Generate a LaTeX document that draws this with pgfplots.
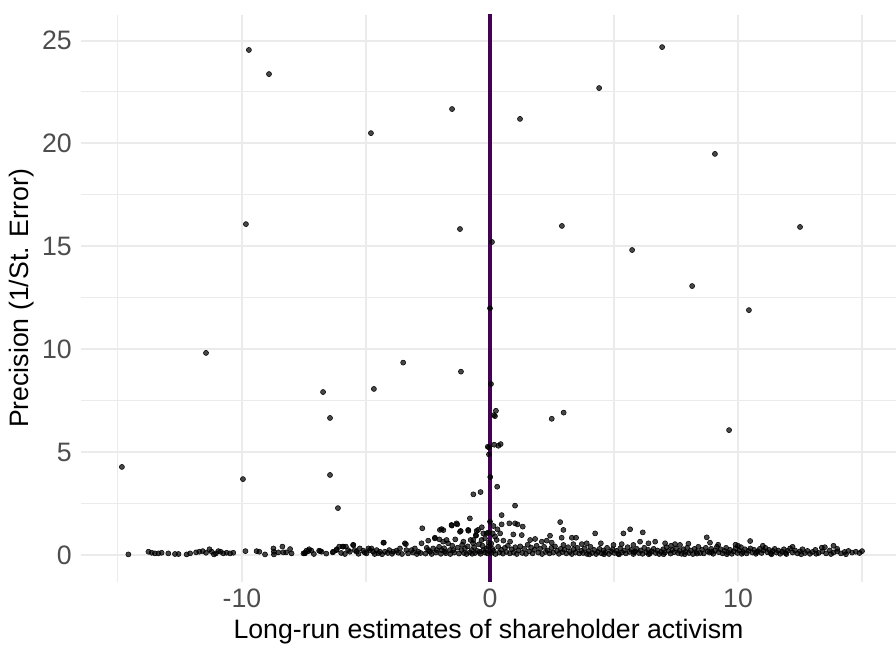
\documentclass[border=0pt]{standalone}
\usepackage{pgfplots}
\pgfplotsset{compat=1.18}
\usepackage{fontspec}
\setmainfont{Liberation Sans}
\definecolor{gridc}{HTML}{EBEBEB}
\definecolor{tickc}{HTML}{4D4D4D}
\definecolor{vir}{HTML}{440154}
\begin{document}
\begin{tikzpicture}
\begin{axis}[
  scale only axis,
  width=611.25pt, height=425.25pt,
  xmin=-16.49, xmax=16.37,
  ymin=-1.31, ymax=26.24,
  axis line style={draw=none},
  major tick length=0pt, minor tick length=0pt,
  xtick={-10,0,10}, xticklabels={-10,0,10},
  minor xtick={-15,-5,5,15},
  ytick={0,5,10,15,20,25}, yticklabels={0,5,10,15,20,25},
  minor ytick={2.5,7.5,12.5,17.5,22.5},
  grid=both,
  major grid style={color=gridc, line width=1.5pt},
  minor grid style={color=gridc, line width=0.8pt},
  tick label style={font=\fontsize{20}{24}\selectfont, text=tickc},
  xticklabel style={anchor=center, inner sep=0pt, yshift=-12pt},
  yticklabel style={anchor=east, inner sep=0pt, xshift=-6.75pt},
  every axis x label/.style={at={(axis description cs:0.5,0)}, anchor=center, yshift=-37.5pt, font=\fontsize{20}{24}\selectfont},
  every axis y label/.style={at={(axis description cs:0,0.5)}, rotate=90, anchor=center, yshift=44.25pt, font=\fontsize{20}{24}\selectfont},
  xlabel={Long-run estimates of shareholder activism},
  ylabel={Precision (1/St. Error)},
  clip=true,
]
\addplot[only marks, mark=*, mark size=1.9pt, mark options={draw=none, fill=black, fill opacity=0.72}] table {
x y
-9.72 24.54
-8.91 23.37
-1.53 21.67
-4.80 20.50
1.21 21.19
4.40 22.69
6.94 24.68
9.07 19.49
-9.84 16.08
-1.21 15.84
0.08 15.21
2.90 15.99
5.73 14.82
12.50 15.94
8.15 13.07
10.44 11.90
0.00 11.99
-11.45 9.82
-3.50 9.35
-1.17 8.91
0.04 8.31
-6.73 7.92
-4.68 8.07
-6.45 6.66
0.24 7.01
0.16 6.80
0.20 6.75
2.49 6.62
2.97 6.92
-0.09 5.26
-0.04 5.23
0.17 5.36
0.34 5.31
0.43 5.39
-0.04 4.89
0.01 3.79
0.29 3.32
-0.67 2.95
-0.38 3.06
-14.84 4.28
-9.96 3.69
-6.45 3.89
-6.13 2.28
9.64 6.07
1.01 2.40
-14.58 0.03
-13.77 0.16
-13.64 0.11
-13.51 0.08
-13.37 0.08
-13.24 0.11
-12.97 0.08
-12.70 0.05
-12.56 0.05
-12.23 0.03
-12.09 0.08
-11.85 0.13
-11.72 0.16
-11.58 0.19
-11.45 0.11
-11.31 0.28
-11.22 0.16
-11.13 0.03
-11.05 0.08
-10.95 0.19
-10.86 0.16
-10.75 0.08
-10.62 0.11
-10.48 0.08
-10.35 0.11
-9.86 0.19
-9.41 0.19
-9.30 0.16
-9.07 0.03
-8.73 0.32
-8.71 0.16
-8.71 0.03
-8.53 0.13
-8.37 0.41
-8.33 0.13
-8.22 0.13
-8.06 0.29
-8.00 0.08
-7.52 0.08
-7.46 0.11
-7.40 0.21
-7.29 0.28
-7.20 0.21
-6.89 0.21
-6.79 0.16
-6.32 0.16
-6.19 0.24
-6.08 0.41
-5.94 0.41
-5.81 0.41
-5.72 0.24
-5.65 0.16
-5.52 0.49
-5.45 0.24
-5.38 0.16
-5.25 0.32
-5.11 0.21
-4.98 0.08
-4.84 0.24
-4.78 0.32
-4.71 0.16
-4.57 0.24
-4.44 0.16
-4.28 0.60
-4.24 0.16
-4.06 0.24
-3.90 0.16
-3.77 0.21
-3.63 0.32
-3.43 0.57
-3.37 0.24
-3.16 0.24
-3.03 0.32
-2.89 0.16
-2.76 0.57
-2.73 1.30
-2.49 0.24
-2.42 0.16
-2.29 0.32
-2.22 0.81
-2.15 0.24
-2.02 1.22
-1.95 0.24
-1.89 0.65
-1.82 0.16
-1.69 0.57
-1.62 0.24
-1.55 1.46
-1.48 0.24
-1.35 1.54
-1.21 1.13
-1.15 0.24
-1.01 0.32
-0.88 1.22
-0.81 1.78
-0.74 0.24
-0.68 0.57
-0.57 0.97
-0.48 1.22
-0.41 0.16
-0.34 0.73
-0.27 0.24
-0.14 1.05
-0.07 0.41
0.00 1.62
-1.95 1.26
-1.88 1.21
-1.54 1.43
-1.32 1.49
-1.18 1.17
-0.87 1.18
-0.54 1.17
-0.33 1.35
-0.56 0.94
-0.27 1.05
-0.07 1.09
-2.49 0.70
-2.22 0.84
-2.04 0.76
-1.75 0.73
-1.40 0.76
-1.07 0.65
-0.78 0.73
-0.67 0.73
-4.30 0.60
-3.39 0.53
-4.90 0.32
-5.51 0.49
-5.91 0.41
-6.18 0.28
-6.34 0.13
-6.85 0.19
-7.32 0.19
-7.46 0.08
-7.10 0.05
-6.60 0.07
-6.00 0.10
-5.85 0.05
-5.30 0.06
-5.05 0.12
-4.65 0.05
-4.50 0.09
-4.35 0.04
-4.12 0.10
-3.95 0.06
-3.70 0.11
-3.55 0.05
-3.30 0.08
-3.10 0.12
-2.95 0.05
-2.80 0.10
-2.60 0.07
-2.55 0.35
-2.35 0.05
-2.18 0.12
-2.05 0.40
-1.98 0.06
-1.85 0.33
-1.78 0.09
-1.60 0.05
-1.52 0.45
-1.44 0.12
-1.30 0.36
-1.25 0.07
-1.12 0.50
-1.05 0.10
-0.95 0.05
-0.90 0.42
-0.82 0.13
-0.72 0.06
-0.64 0.38
-0.60 0.10
-0.52 0.20
-0.45 0.52
-0.38 0.06
-0.30 0.45
-0.20 0.12
-0.15 0.30
-0.10 0.08
-0.05 0.60
0.47 1.94
2.83 1.60
0.14 1.41
0.30 1.25
0.47 1.49
0.78 1.54
1.01 1.54
1.11 1.49
1.32 1.38
2.96 1.22
4.24 1.05
5.38 1.05
5.65 1.25
6.16 1.10
0.41 1.05
0.94 1.00
1.28 0.97
2.42 0.94
2.89 0.84
3.30 0.84
3.47 0.84
-0.20 0.81
0.27 0.73
0.54 0.70
0.81 0.65
1.62 0.73
1.82 0.78
2.09 0.65
2.29 0.70
2.49 0.60
2.96 0.49
3.36 0.53
3.70 0.53
3.90 0.57
4.47 0.57
4.98 0.49
5.31 0.53
5.78 0.49
6.05 0.65
6.39 0.57
6.66 0.65
7.06 0.57
7.46 0.53
0.11 1.05
0.20 0.90
0.05 0.55
0.10 0.30
0.05 0.10
0.15 0.20
0.22 0.05
0.33 0.40
0.38 0.12
0.45 0.25
0.52 0.07
0.60 0.35
0.66 0.15
0.72 0.45
0.80 0.08
0.88 0.28
0.95 0.12
1.02 0.38
1.08 0.05
1.15 0.22
1.22 0.42
1.30 0.10
1.38 0.30
1.45 0.06
1.52 0.50
1.58 0.18
1.66 0.36
1.72 0.08
1.80 0.25
1.88 0.45
1.95 0.12
2.02 0.30
2.10 0.05
2.18 0.40
2.25 0.15
2.33 0.22
2.40 0.08
2.48 0.35
2.55 0.12
2.62 0.42
2.70 0.20
2.78 0.06
2.85 0.30
2.92 0.14
3.00 0.25
3.08 0.08
3.15 0.38
3.22 0.15
3.30 0.05
3.38 0.28
3.45 0.12
3.52 0.35
3.60 0.08
3.68 0.20
3.75 0.10
3.82 0.32
3.90 0.06
3.98 0.18
4.05 0.40
4.12 0.10
4.20 0.25
4.28 0.05
4.35 0.15
4.42 0.30
4.50 0.08
4.58 0.22
4.65 0.12
4.72 0.35
4.80 0.05
4.88 0.18
4.95 0.28
5.02 0.10
5.10 0.20
5.18 0.06
5.25 0.32
5.32 0.12
5.40 0.22
5.48 0.08
5.55 0.38
5.62 0.15
5.70 0.25
5.78 0.05
5.85 0.18
5.92 0.30
6.00 0.10
6.08 0.22
6.15 0.06
6.22 0.35
6.30 0.14
6.38 0.25
6.45 0.08
6.52 0.18
6.60 0.30
6.68 0.10
6.75 0.22
6.82 0.05
6.90 0.15
6.98 0.28
7.05 0.12
7.12 0.38
7.20 0.20
7.28 0.07
7.35 0.25
7.42 0.14
7.50 0.32
7.58 0.10
7.65 0.20
7.72 0.06
7.80 0.28
7.88 0.15
7.95 0.35
8.02 0.10
8.10 0.22
8.18 0.05
8.25 0.30
8.32 0.15
8.40 0.40
8.48 0.10
8.55 0.25
8.62 0.08
8.70 0.35
8.78 0.18
8.85 0.12
8.92 0.30
9.00 0.06
9.08 0.22
9.15 0.40
9.22 0.14
9.30 0.28
9.38 0.08
9.45 0.20
9.52 0.35
9.60 0.12
9.68 0.25
9.75 0.06
9.82 0.18
9.90 0.32
9.98 0.10
10.05 0.22
10.12 0.38
10.20 0.14
10.28 0.28
10.35 0.08
10.42 0.20
10.50 0.32
10.58 0.12
10.65 0.25
10.72 0.06
10.80 0.18
10.88 0.30
10.95 0.10
11.02 0.22
11.10 0.35
11.18 0.14
11.25 0.25
11.32 0.08
11.40 0.20
11.48 0.30
11.55 0.12
11.62 0.22
11.70 0.06
11.78 0.16
11.85 0.28
11.92 0.10
12.00 0.20
12.10 0.32
12.20 0.12
12.30 0.22
12.40 0.08
12.50 0.18
12.60 0.28
12.70 0.10
12.80 0.20
12.90 0.06
13.00 0.15
13.12 0.25
13.25 0.10
13.40 0.18
13.55 0.08
13.70 0.22
13.85 0.12
14.00 0.18
14.15 0.08
14.30 0.15
14.45 0.20
14.60 0.12
14.75 0.16
14.90 0.10
15.00 0.19
7.66 0.49
8.74 0.86
8.87 0.60
10.49 0.68
9.20 0.50
9.90 0.50
11.00 0.45
12.20 0.40
13.50 0.38
13.85 0.45
13.38 0.36
14.00 0.30
8.00 0.55
7.30 0.45
10.00 0.45
7.85 0.04
8.35 0.07
8.95 0.15
9.55 0.04
10.15 0.06
10.75 0.14
11.35 0.04
11.95 0.05
12.55 0.04
13.15 0.06
13.75 0.05
14.35 0.04
4.00 0.03
4.60 0.04
5.20 0.03
5.80 0.14
6.40 0.04
7.00 0.04
};
\addplot[vir, line width=2.3pt] coordinates {(0,-5) (0,30)};
\end{axis}
\pgfresetboundingbox
\path[use as bounding box] ([xshift=-60.75pt,yshift=-49.5pt]current axis.south west) rectangle ([yshift=11.25pt]current axis.north east);
\end{tikzpicture}
\end{document}
